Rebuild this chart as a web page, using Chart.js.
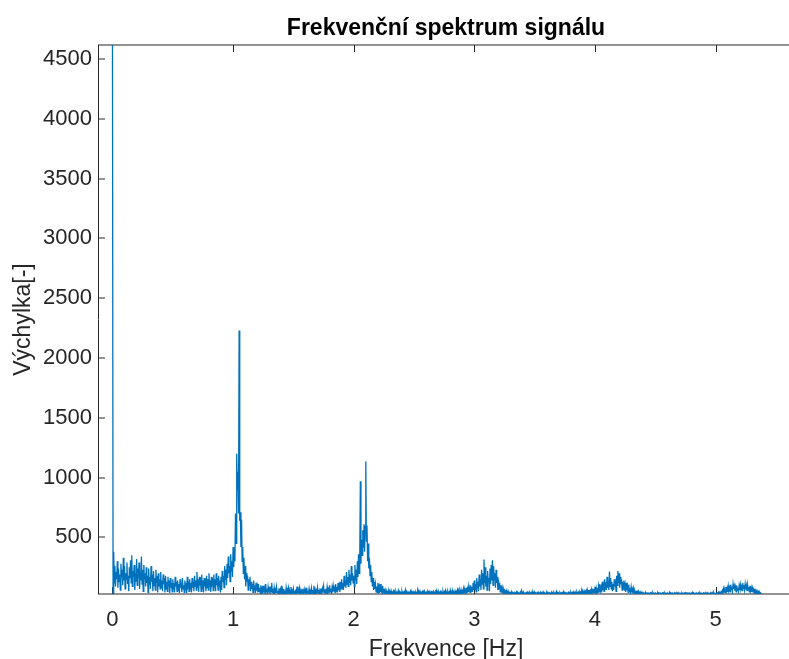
<!DOCTYPE html>
<html lang="cs">
<head>
<meta charset="utf-8">
<title>Frekvenční spektrum signálu</title>
<script src="https://cdn.jsdelivr.net/npm/chart.js@4/dist/chart.umd.min.js"></script>
<style>
  html, body { margin: 0; padding: 0; background: #ffffff; overflow: hidden; }
  #wrap { width: 794px; height: 659px; }
</style>
</head>
<body>
<div id="wrap"><canvas id="spectrum" width="794" height="659"></canvas></div>
<script>
// Amplitude spectrum, sampled every 0.005 Hz, one array per 1 Hz band.
const freqStep = 0.005;

const band0 = [ // 0.000 – 0.995 Hz
  4617, 30, 380, 120, 260, 90, 210, 150, 300, 80,
  240, 130, 190, 60, 280, 170, 230, 100, 330, 140,
  260, 70, 200, 150, 290, 110, 180, 50, 250, 160,
  310, 120, 350, 90, 220, 170, 270, 60, 200, 130,
  320, 100, 240, 160, 290, 70, 210, 140, 340, 110,
  230, 50, 270, 150, 200, 90, 250, 120, 180, 40,
  240, 110, 170, 70, 260, 130, 190, 50, 220, 100,
  160, 60, 230, 120, 180, 40, 200, 90, 150, 70,
  210, 80, 140, 50, 190, 110, 160, 40, 180, 70,
  130, 50, 170, 90, 140, 35, 160, 80, 120, 45,
  150, 70, 120, 40, 170, 90, 130, 50, 140, 60,
  110, 35, 150, 80, 120, 45, 160, 70, 100, 40,
  140, 60, 120, 35, 170, 90, 110, 50, 150, 70,
  120, 40, 160, 80, 130, 50, 180, 90, 140, 60,
  210, 80, 150, 45, 170, 100, 130, 50, 190, 70,
  140, 40, 160, 90, 120, 50, 180, 80, 150, 60,
  200, 90, 140, 45, 170, 110, 130, 55, 190, 80,
  150, 50, 200, 100, 160, 60, 180, 90, 140, 40,
  170, 60, 220, 130, 180, 80, 260, 150, 230, 100,
  280, 160, 340, 200, 260, 130, 360, 220, 300, 170
];

const band1 = [ // 1.000 – 1.995 Hz
  420, 250, 380, 300, 700, 450, 1200, 900, 1050, 700,
  2230, 640, 710, 420, 650, 300, 420, 200, 330, 150,
  260, 90, 200, 130, 180, 60, 150, 100, 170, 50,
  130, 70, 110, 40, 140, 60, 100, 35, 120, 55,
  90, 40, 110, 50, 80, 35, 100, 45, 70, 30,
  95, 40, 75, 35, 110, 50, 70, 30, 85, 40,
  65, 30, 90, 45, 120, 40, 70, 35, 80, 30,
  60, 35, 85, 40, 55, 30, 75, 40, 60, 30,
  95, 40, 60, 30, 70, 35, 55, 30, 80, 40,
  60, 30, 75, 35, 50, 30, 85, 40, 55, 30,
  70, 35, 55, 30, 65, 40, 90, 35, 60, 30,
  75, 35, 50, 30, 70, 40, 55, 30, 65, 35,
  60, 30, 80, 40, 55, 30, 70, 35, 50, 30,
  75, 35, 60, 30, 95, 40, 65, 35, 55, 30,
  80, 40, 60, 30, 75, 35, 55, 30, 70, 40,
  90, 40, 65, 35, 70, 30, 85, 45, 60, 35,
  100, 45, 70, 35, 80, 40, 95, 50, 75, 40,
  110, 50, 85, 40, 120, 60, 95, 45, 130, 70,
  150, 70, 120, 60, 180, 90, 140, 80, 210, 110,
  170, 90, 230, 120, 190, 100, 260, 140, 200, 120
];

const band2 = [ // 2.000 – 2.995 Hz
  180, 90, 270, 140, 230, 110, 300, 170, 360, 200,
  320, 970, 280, 480, 350, 560, 420, 610, 380, 590,
  1135, 470, 600, 300, 450, 240, 330, 180, 270, 130,
  210, 90, 160, 60, 130, 70, 110, 45, 90, 40,
  120, 50, 85, 35, 110, 45, 75, 30, 95, 40,
  70, 35, 60, 30, 55, 35, 45, 30, 50, 30,
  45, 30, 55, 32, 40, 28, 50, 30, 42, 28,
  48, 30, 40, 28, 55, 30, 45, 28, 38, 30,
  50, 30, 42, 28, 45, 30, 60, 32, 40, 28,
  45, 30, 38, 28, 50, 30, 42, 28, 55, 30,
  40, 28, 48, 30, 38, 28, 52, 30, 44, 28,
  50, 30, 40, 28, 46, 30, 58, 32, 42, 28,
  38, 30, 50, 28, 44, 30, 40, 28, 55, 30,
  42, 28, 48, 30, 40, 28, 60, 30, 45, 28,
  52, 30, 40, 28, 46, 30, 38, 28, 50, 30,
  44, 28, 55, 30, 40, 28, 48, 30, 42, 28,
  58, 30, 44, 28, 50, 30, 40, 28, 52, 32,
  46, 30, 60, 32, 48, 30, 55, 34, 62, 36,
  50, 32, 70, 38, 58, 35, 80, 40, 65, 38,
  90, 45, 75, 40, 100, 50, 85, 45, 120, 60
];

const band3 = [ // 3.000 – 3.995 Hz
  140, 60, 110, 45, 160, 80, 130, 50, 190, 90,
  150, 60, 230, 110, 200, 70, 315, 120, 250, 90,
  180, 60, 220, 130, 160, 50, 240, 110, 270, 140,
  310, 100, 260, 150, 200, 80, 230, 120, 170, 60,
  150, 70, 120, 45, 100, 55, 80, 35, 70, 40,
  55, 30, 60, 35, 45, 28, 50, 30, 40, 28,
  38, 28, 42, 30, 35, 28, 40, 28, 36, 30,
  45, 28, 38, 30, 34, 28, 40, 28, 55, 30,
  36, 28, 40, 30, 34, 28, 38, 28, 42, 30,
  35, 28, 40, 28, 36, 30, 50, 28, 38, 28,
  40, 30, 34, 28, 38, 28, 42, 30, 35, 28,
  38, 28, 36, 30, 45, 28, 38, 28, 34, 30,
  40, 28, 36, 28, 38, 30, 34, 28, 42, 28,
  36, 30, 40, 28, 35, 28, 48, 30, 38, 28,
  34, 28, 40, 30, 36, 28, 38, 28, 42, 30,
  36, 28, 38, 30, 34, 28, 40, 28, 36, 30,
  42, 28, 38, 30, 45, 28, 40, 30, 38, 28,
  44, 30, 40, 28, 48, 30, 42, 28, 50, 30,
  46, 30, 52, 32, 48, 30, 55, 34, 50, 30,
  60, 35, 52, 32, 65, 38, 58, 34, 70, 40
];

const band4 = [ // 4.000 – 4.995 Hz
  55, 32, 75, 40, 60, 35, 90, 45, 110, 55,
  80, 40, 130, 60, 100, 50, 150, 70, 125, 60,
  170, 80, 140, 60, 215, 90, 160, 70, 130, 50,
  110, 60, 150, 90, 120, 50, 180, 100, 220, 120,
  200, 80, 170, 110, 150, 60, 130, 70, 140, 55,
  100, 45, 120, 60, 90, 40, 105, 50, 75, 35,
  85, 40, 65, 32, 70, 35, 50, 30, 55, 30,
  45, 28, 50, 30, 40, 28, 38, 28, 42, 28,
  36, 28, 34, 30, 38, 28, 32, 28, 36, 29,
  33, 28, 37, 30, 34, 28, 40, 28, 33, 29,
  36, 28, 32, 30, 38, 28, 34, 28, 36, 29,
  33, 28, 36, 30, 34, 28, 37, 28, 32, 29,
  35, 28, 33, 30, 38, 28, 34, 28, 36, 29,
  32, 28, 36, 30, 33, 28, 35, 28, 38, 29,
  34, 28, 32, 30, 36, 28, 33, 28, 35, 29,
  37, 28, 34, 30, 32, 28, 36, 28, 33, 29,
  35, 28, 38, 30, 34, 28, 32, 28, 36, 29,
  33, 28, 35, 30, 37, 28, 34, 28, 32, 29,
  36, 28, 33, 30, 35, 28, 38, 28, 34, 29,
  32, 28, 36, 30, 34, 28, 45, 28, 33, 29
];

const band5 = [ // 5.000 – 5.380 Hz
  30, 34, 29, 36, 30, 40, 32, 38, 30, 45,
  35, 55, 38, 70, 42, 60, 40, 85, 50, 75,
  45, 95, 60, 80, 45, 105, 65, 90, 50, 110,
  70, 95, 55, 85, 45, 100, 60, 80, 50, 95,
  60, 105, 70, 90, 55, 118, 75, 100, 60, 110,
  65, 95, 50, 105, 60, 85, 45, 95, 55, 80,
  45, 75, 40, 65, 35, 70, 38, 55, 32, 50,
  30, 45, 30, 40, 29, 35, 30
];

const xTickValues = [0, 1, 2, 3, 4, 5];
const yTickValues = [500, 1000, 1500, 2000, 2500, 3000, 3500, 4000, 4500];

const amplitudes = [].concat(band0, band1, band2, band3, band4, band5);
const points = amplitudes.map((v, i) => ({ x: Math.round(i * freqStep * 1000) / 1000, y: v }));

const FONT = '"Liberation Sans", Arial, Helvetica, sans-serif';
const AXIS_COLOR = '#262626';

// MATLAB-style box: left axis line, top and bottom edges, inward tick marks.
const axesBox = {
  id: 'axesBox',
  beforeDatasetsDraw(chart) {
    const { ctx, chartArea: a, scales } = chart;
    const tick = 7;
    ctx.save();
    ctx.strokeStyle = AXIS_COLOR;
    ctx.lineWidth = 1;
    ctx.beginPath();
    ctx.moveTo(a.left + 0.5, a.top);
    ctx.lineTo(a.left + 0.5, a.bottom);
    ctx.moveTo(a.left, a.top);
    ctx.lineTo(a.right, a.top);
    ctx.moveTo(a.left, a.bottom);
    ctx.lineTo(a.right, a.bottom);
    scales.y.ticks.forEach(t => {
      const py = Math.round(scales.y.getPixelForValue(t.value));
      ctx.moveTo(a.left, py);
      ctx.lineTo(a.left + tick, py);
    });
    scales.x.ticks.forEach(t => {
      const px = Math.round(scales.x.getPixelForValue(t.value)) + 0.5;
      ctx.moveTo(px, a.bottom);
      ctx.lineTo(px, a.bottom - tick);
      ctx.moveTo(px, a.top);
      ctx.lineTo(px, a.top + tick);
    });
    ctx.stroke();
    ctx.restore();
  }
};

new Chart(document.getElementById('spectrum'), {
  type: 'line',
  data: {
    datasets: [{
      data: points,
      borderColor: '#0072BD',
      borderWidth: 1.3,
      pointRadius: 0,
      tension: 0,
      fill: false
    }]
  },
  options: {
    responsive: false,
    animation: false,
    devicePixelRatio: 1,
    layout: { padding: 0 },
    plugins: {
      legend: { display: false },
      tooltip: { enabled: false },
      title: {
        display: true,
        fullSize: false,
        text: 'Frekvenční spektrum signálu',
        color: '#000000',
        font: { family: FONT, size: 23, weight: 'bold', lineHeight: 1.2 },
        padding: { top: 14.4, bottom: 3 }
      }
    },
    scales: {
      x: {
        type: 'linear',
        min: -0.12,
        max: 5.65,
        afterFit: s => { s.height = 65; },
        afterBuildTicks: s => { s.ticks = xTickValues.map(v => ({ value: v })); },
        grid: { display: false, drawTicks: false },
        border: { display: false },
        ticks: {
          color: AXIS_COLOR,
          padding: 13,
          maxRotation: 0,
          font: { family: FONT, size: 22 },
          callback: v => String(v)
        },
        title: {
          display: true,
          text: 'Frekvence [Hz]',
          color: AXIS_COLOR,
          font: { family: FONT, size: 23, lineHeight: 1 },
          padding: { top: 0, bottom: -2 }
        }
      },
      y: {
        type: 'linear',
        min: 27,
        max: 4617,
        afterFit: s => { s.width = 98; },
        afterBuildTicks: s => { s.ticks = yTickValues.map(v => ({ value: v })); },
        grid: { display: false, drawTicks: false },
        border: { display: false },
        ticks: {
          color: AXIS_COLOR,
          padding: 6,
          font: { family: FONT, size: 22 },
          callback: v => String(v)
        },
        title: {
          display: true,
          text: 'Výchylka[-]',
          color: AXIS_COLOR,
          font: { family: FONT, size: 23, lineHeight: 1 },
          padding: { top: 12, bottom: 0 }
        }
      }
    }
  },
  plugins: [axesBox]
});
</script>
</body>
</html>
